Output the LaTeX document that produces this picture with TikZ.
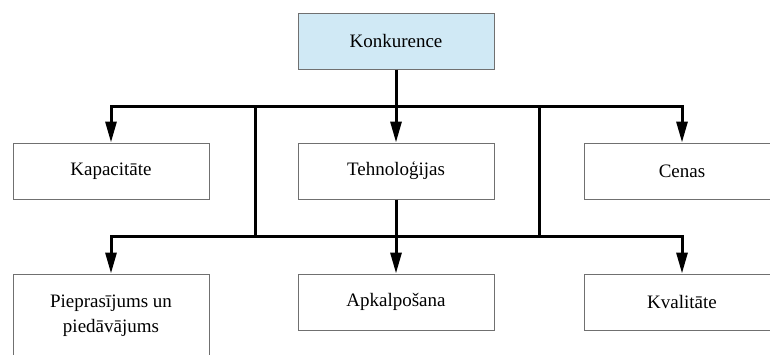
\documentclass[tikz,border=0pt]{standalone}
\usepackage{fontspec}
\setmainfont{Liberation Serif}
\usetikzlibrary{arrows.meta}
\definecolor{topfill}{HTML}{D0E9F5}
\definecolor{boxline}{HTML}{707070}
\tikzset{
  box/.style={draw=boxline, line width=1pt, minimum width=196pt, minimum height=56pt,
    inner sep=0pt, align=center, font=\fontsize{19}{25}\selectfont},
  link/.style={line width=3pt, line cap=rect},
  tolink/.style={line width=3pt, -{Triangle[length=21pt,width=11pt]}},
}
\begin{document}
\begin{tikzpicture}[x=1pt,y=-1pt]
\useasboundingbox (0,0) rectangle (770,354);
\clip (0,0) rectangle (770,354);
\fill[white] (0,0) rectangle (770,354);

% boxes
\node[box, fill=topfill] (konk) at (396,41) {Konkurence};
\node[box] (kap)  at (111,171) {Kapacitāte};
\node[box] (tech) at (396,171) {Tehnoloģijas};
\node[box] (cen)  at (682,171) {Cenas};
\node[box, minimum height=84pt] (piep) at (111,316) {Pieprasījums un\\piedāvājums};
\node[box] (apk)  at (396,302) {Apkalpošana};
\node[box] (kval) at (682,302) {Kvalitāte};

% junction points of the two distribution lines
\coordinate (tl) at (111,106);
\coordinate (tr) at (682,106);
\coordinate (ta) at (255,106);
\coordinate (tb) at (539,106);
\coordinate (bl) at (111,236);
\coordinate (br) at (682,236);
\coordinate (ba) at (255,236);
\coordinate (bb) at (539,236);

% connectors
\draw[link] (tl) -- (tr);
\draw[link] (bl) -- (br);
\draw[link] (ta) -- (ba);
\draw[link] (tb) -- (bb);
\draw[tolink] (konk.south) -- (tech.north);
\draw[tolink] (tl) -- (kap.north);
\draw[tolink] (tr) -- (cen.north);
\draw[tolink] (tech.south) -- (apk.north);
\draw[tolink] (bl) -- (piep.north);
\draw[tolink] (br) -- (kval.north);
\end{tikzpicture}
\end{document}
